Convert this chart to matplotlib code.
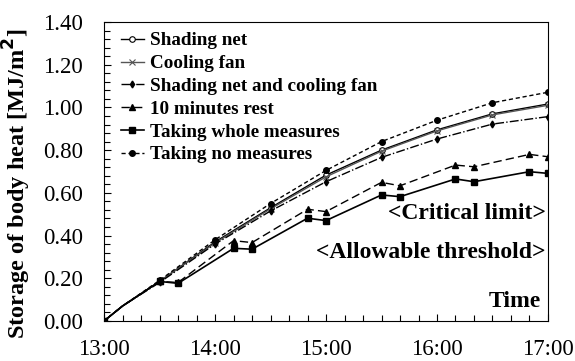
import matplotlib
matplotlib.use('Agg')
import matplotlib.pyplot as plt
from matplotlib.ticker import MultipleLocator, FuncFormatter

plt.rcParams['font.family'] = 'Liberation Serif'

# time axis in decimal hours
t_smooth = [13.0, 13 + 10/60, 13.5, 14.0, 14.5, 15.0, 15.5, 16.0, 16.5, 17.0]
t_rest = [13.0, 13 + 10/60, 13.5, 13 + 40/60, 14 + 10/60, 14 + 20/60, 14 + 50/60,
          15.0, 15.5, 15 + 40/60, 16 + 10/60, 16 + 20/60, 16 + 50/60, 17.0]

shading_net = [0, 0.07, 0.185, 0.37, 0.53, 0.683, 0.80, 0.895, 0.97, 1.016]
cooling_fan = [0, 0.07, 0.185, 0.365, 0.525, 0.675, 0.795, 0.89, 0.965, 1.01]
net_and_fan = [0, 0.07, 0.18, 0.36, 0.515, 0.652, 0.766, 0.852, 0.922, 0.957]
rest_10min = [0, 0.07, 0.185, 0.18, 0.376, 0.367, 0.523, 0.512, 0.649, 0.633,
              0.73, 0.722, 0.78, 0.769]
whole_measures = [0, 0.07, 0.185, 0.176, 0.34, 0.336, 0.481, 0.47, 0.59, 0.582,
                  0.665, 0.652, 0.699, 0.691]
no_measures = [0, 0.07, 0.19, 0.38, 0.55, 0.705, 0.84, 0.94, 1.022, 1.071]

fig = plt.figure(figsize=(5.75, 3.61), dpi=100)
ax = fig.add_axes([0.181, 0.111, 0.772, 0.828])

skip = [i for i in range(len(t_smooth)) if i != 1]
skip_r = [i for i in range(1, len(t_rest)) if i != 1]

ax.plot(t_smooth, shading_net, '-', color='black', lw=1.0, marker='o', ms=4,
        mfc='white', mew=0.8, markevery=skip[1:], label='Shading net')
ax.plot(t_smooth, cooling_fan, '-', color='#555555', lw=1.0, marker='x', ms=4,
        mew=0.8, markevery=skip[1:], label='Cooling fan')
ax.plot(t_smooth, net_and_fan, '-.', color='black', lw=1.0, marker='d', ms=3.5,
        markevery=skip[1:], label='Shading net and cooling fan')
ax.plot(t_rest, rest_10min, '--', color='black', lw=1.0, marker='^', ms=4.5,
        dashes=(6, 3), markevery=skip_r, label='10 minutes rest')
ax.plot(t_rest, whole_measures, '-', color='black', lw=1.2, marker='s', ms=4.5,
        markevery=[0] + skip_r, label='Taking whole measures')
ax.plot(t_smooth, no_measures, '--', color='black', lw=1.0, marker='o', ms=4,
        dashes=(3, 2), markevery=skip[1:], label='Taking no measures')

ax.set_xlim(13, 17)
ax.set_ylim(0, 1.4)
ax.xaxis.set_major_locator(MultipleLocator(1))
ax.xaxis.set_minor_locator(MultipleLocator(1/6))
ax.yaxis.set_major_locator(MultipleLocator(0.2))
ax.yaxis.set_minor_locator(MultipleLocator(0.04))
ax.xaxis.set_major_formatter(FuncFormatter(lambda v, p: f'{int(round(v))}:00'))
ax.yaxis.set_major_formatter(FuncFormatter(lambda v, p: f'{v:.2f}'))
ax.tick_params(which='both', direction='in', top=False, right=False,
               labelsize=16.5, width=0.8)
ax.tick_params(which='major', length=5)
ax.tick_params(which='minor', length=4)
ax.tick_params(axis='y', pad=15)
ax.tick_params(axis='x', pad=13)

ax.set_ylabel('Storage of body heat [MJ/m$^\\mathbf{2}$]', fontsize=17.5,
              fontweight='bold')
ax.yaxis.set_label_coords(-0.16, 0.46)

ax.text(0.995, 0.36, '<Critical limit>', transform=ax.transAxes, ha='right',
        va='center', fontsize=17, fontweight='bold')
ax.text(0.995, 0.23, '<Allowable threshold>', transform=ax.transAxes, ha='right',
        va='center', fontsize=17, fontweight='bold')
ax.text(0.985, 0.065, 'Time', transform=ax.transAxes, ha='right',
        va='center', fontsize=17, fontweight='bold')

ax.legend(loc='upper left', frameon=False, prop={'weight': 'bold', 'size': 13.8},
          handlelength=1.2, handletextpad=0.3, labelspacing=0.28,
          borderaxespad=0.2, bbox_to_anchor=(0.012, 1.005))

fig.savefig('out.png', dpi=100)
